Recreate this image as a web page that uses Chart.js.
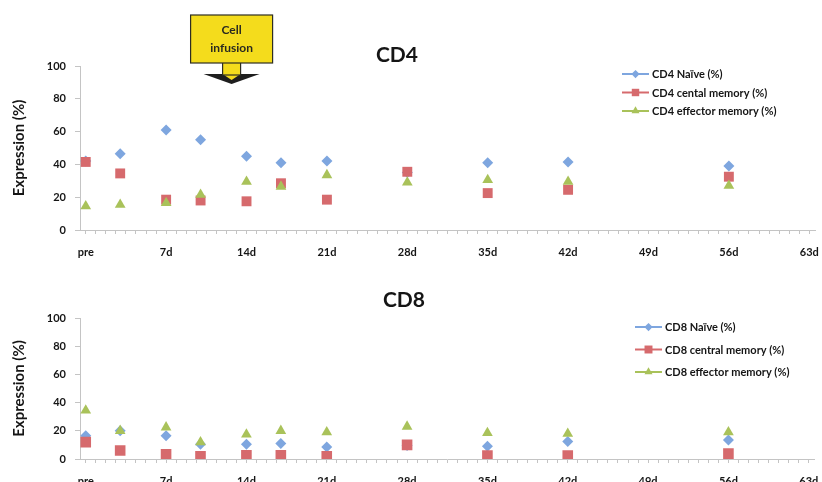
<!DOCTYPE html>
<html>
<head>
<meta charset="utf-8">
<script src="https://cdn.jsdelivr.net/npm/chart.js@4.4.0/dist/chart.umd.min.js"></script>
<style>
	html, body { margin: 0; padding: 0; background: #fff; overflow: hidden; }
	body { width: 822px; height: 482px; position: relative; }
	.panel { position: absolute; left: 0; width: 822px; }
	#top { top: 0; height: 265px; }
	#bottom { top: 280px; height: 215px; }
</style>
</head>
<body>
<div class="panel" id="top"><canvas id="cd4" width="822" height="265"></canvas></div>
<div class="panel" id="bottom"><canvas id="cd8" width="822" height="215"></canvas></div>
<script>
// sampling days (pre = day 0)
var days = [0, 3, 7, 10, 14, 17, 21, 28, 35, 42, 56];
var tickLabels = ['pre', '7d', '14d', '21d', '28d', '35d', '42d', '49d', '56d', '63d'];

var cd4Naive    = [42, 46.5, 61, 55, 45, 41, 42, 35, 41, 41.5, 39];
var cd4Central  = [41.5, 34.5, 18.5, 18, 17.5, 28.5, 18.5, 35.5, 22.5, 24.5, 32.5];
var cd4Effector = [14.5, 15.5, 16.5, 21.5, 29.5, 26.5, 33.5, 29, 30.5, 29.5, 27];

var cd8Naive    = [16.5, 20, 16.5, 10.5, 10.5, 11, 8.5, 9.5, 9, 12.5, 13.5];
var cd8Central  = [12, 6, 3.3, 2, 2.6, 2.6, 2, 10, 2.4, 2.4, 3.8];
var cd8Effector = [34.5, 20, 22.5, 12, 17.5, 20, 19, 23, 18.5, 18, 19];

var infusionDay = 12.7;

var FONT = 'Lato';
var BLUE = '#7ea6df', RED = '#d66a6d', GREEN = '#a9c25a';
var AXIS = '#c4c4c4';
var MINOR = 8; // minor ticks per week

function toPoints(values) {
	return days.map(function(d, i) { return {x: d, y: values[i]}; });
}

function makeDataset(label, values, color, style, radius, order) {
	return {
		label: label,
		data: toPoints(values),
		backgroundColor: color,
		borderColor: color,
		pointStyle: style,
		pointRadius: radius,
		pointHoverRadius: radius,
		pointBorderWidth: 0,
		showLine: false,
		order: order
	};
}

// title, floating legend and the infusion callout
const overlay = {
	id: 'overlay',
	afterDraw(chart, args, opts) {
		const ctx = chart.ctx;
		ctx.save();
		ctx.fillStyle = '#151515';
		ctx.font = 'bold 21px ' + FONT;
		ctx.textAlign = 'center';
		ctx.textBaseline = 'middle';
		ctx.fillText(opts.title, opts.titleX, opts.titleY);

		// legend: line with marker
		ctx.font = 'bold 11px ' + FONT;
		ctx.textAlign = 'left';
		chart.data.datasets.forEach(function(ds, i) {
			var y = opts.legendY + i * opts.legendGap;
			var x0 = opts.legendX, x1 = opts.legendX + 27;
			ctx.strokeStyle = ds.borderColor;
			ctx.lineWidth = 2;
			ctx.beginPath();
			ctx.moveTo(x0, y);
			ctx.lineTo(x1, y);
			ctx.stroke();
			ctx.fillStyle = ds.backgroundColor;
			Chart.helpers.drawPoint(ctx, {pointStyle: ds.pointStyle, radius: ds.pointRadius * 0.75, borderWidth: 0, rotation: 0}, (x0 + x1) / 2, y);
			ctx.fillStyle = '#151515';
			ctx.fillText(ds.label, x1 + 3, y + 0.5);
		});

		if (opts.infusion) {
			var px = chart.scales.x.getPixelForValue(opts.infusion);
			ctx.lineWidth = 1.2;
			ctx.strokeStyle = '#2e2e22';
			// arrow head
			ctx.fillStyle = '#1e1e1e';
			ctx.beginPath();
			ctx.moveTo(px - 28, 74);
			ctx.lineTo(px + 28, 74);
			ctx.lineTo(px, 84);
			ctx.closePath();
			ctx.fill();
			ctx.fillStyle = '#f4dc1c';
			ctx.beginPath();
			ctx.moveTo(px - 9, 74);
			ctx.lineTo(px + 9, 74);
			ctx.lineTo(px, 80);
			ctx.closePath();
			ctx.fill();
			// stem
			ctx.fillRect(px - 9, 62, 18, 13);
			ctx.strokeRect(px - 9, 62, 18, 13);
			// box
			ctx.fillRect(px - 41, 15, 82, 48);
			ctx.strokeRect(px - 41, 15, 82, 48);
			ctx.fillStyle = '#2a2a20';
			ctx.font = 'bold 12px ' + FONT;
			ctx.textAlign = 'center';
			ctx.fillText('Cell', px, 30);
			ctx.fillText('infusion', px, 48);
		}
		ctx.restore();
	}
};

function createChart(id, datasets, padTop, xHeight, overlayOpts) {
	return new Chart(document.getElementById(id), {
		type: 'scatter',
		data: { datasets: datasets },
		options: {
			responsive: false,
			animation: false,
			layout: { padding: { top: padTop, right: 5, left: 0, bottom: 0 } },
			scales: {
				x: {
					type: 'linear',
					min: -0.5, max: 63.5,
					afterFit: function(scale) {
						scale.height = xHeight;
						scale.paddingRight = 0; // let "63d" run to the edge
					},
					afterBuildTicks: function(scale) {
						var ticks = [];
						for (var k = 0; k <= (tickLabels.length - 1) * MINOR; k++) {
							ticks.push({ value: k * 7 / MINOR });
						}
						scale.ticks = ticks;
					},
					ticks: {
						autoSkip: false,
						maxRotation: 0,
						padding: 12,
						color: '#151515',
						font: { family: FONT, size: 11, weight: 'bold' },
						callback: function(v, i) {
							return i % MINOR === 0 ? tickLabels[i / MINOR] : '';
						}
					},
					grid: { drawOnChartArea: false, tickLength: 4, color: AXIS },
					border: { color: AXIS }
				},
				y: {
					min: 0, max: 100,
					afterFit: function(scale) { scale.width = 80; },
					ticks: {
						stepSize: 20,
						padding: 9,
						color: '#151515',
						font: { family: FONT, size: 11, weight: 'bold' }
					},
					grid: { drawOnChartArea: false, tickLength: 5, color: AXIS },
					border: { color: AXIS },
					title: {
						display: true,
						text: 'Expression (%)',
						color: '#151515',
						font: { family: FONT, size: 15, weight: 'bold' },
						padding: { top: 10, bottom: 0 }
					}
				}
			},
			plugins: {
				legend: { display: false },
				tooltip: { enabled: false },
				overlay: overlayOpts
			}
		},
		plugins: [overlay]
	});
}

createChart('cd4', [
	makeDataset('CD4 Naïve (%)', cd4Naive, BLUE, 'rectRot', 5.5, 3),
	makeDataset('CD4 cental memory (%)', cd4Central, RED, 'rect', 7, 2),
	makeDataset('CD4 effector memory (%)', cd4Effector, GREEN, 'triangle', 6.2, 1)
], 66, 35, {
	title: 'CD4', titleX: 397, titleY: 55,
	legendX: 622, legendY: 74, legendGap: 18.5,
	infusion: infusionDay
});

createChart('cd8', [
	makeDataset('CD8 Naïve (%)', cd8Naive, BLUE, 'rectRot', 5.5, 3),
	makeDataset('CD8 central memory (%)', cd8Central, RED, 'rect', 7.5, 2),
	makeDataset('CD8 effector memory (%)', cd8Effector, GREEN, 'triangle', 6.2, 1)
], 38, 36, {
	title: 'CD8', titleX: 404, titleY: 20,
	legendX: 635, legendY: 47, legendGap: 22.5
});
</script>
</body>
</html>
